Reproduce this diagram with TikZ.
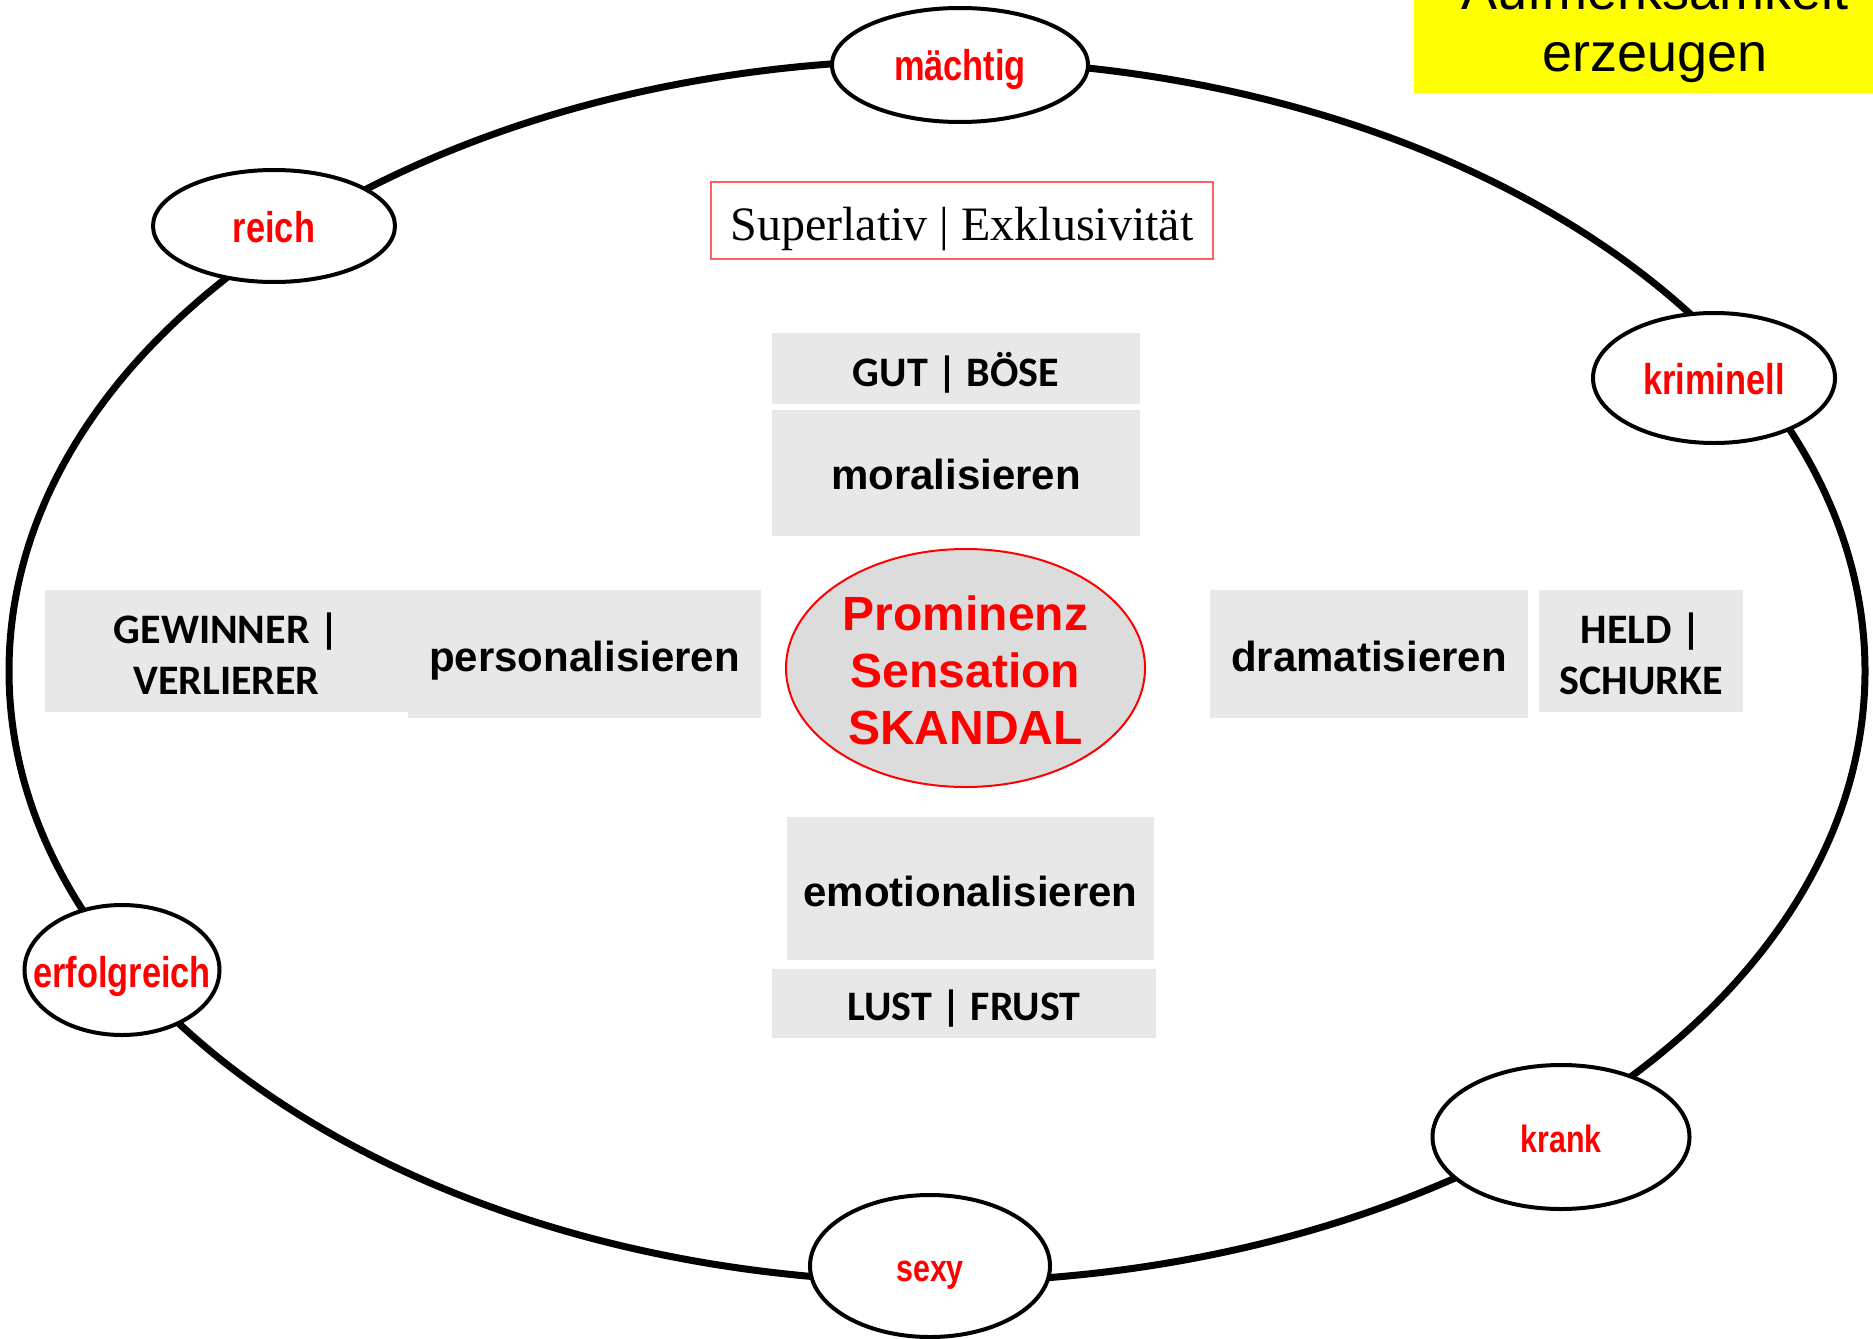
\documentclass[tikz,border=0pt]{standalone}
\usepackage{fontspec}
\setmainfont{Liberation Sans}
\newfontfamily\calib{Carlito}
\newfontfamily\timesf{Liberation Serif}
\newfontfamily\narrowf[FakeStretch=0.8]{Liberation Sans}
\usetikzlibrary{shapes.geometric}
\definecolor{boxgray}{HTML}{E8E8E8}
\definecolor{centgray}{HTML}{DCDCDC}
\definecolor{lightred}{HTML}{FF6060}
\definecolor{pureyellow}{HTML}{FFFF00}
\definecolor{purered}{HTML}{FF0000}
\tikzset{
  smallell/.style={ellipse, draw=black, line width=2pt, fill=white, inner sep=0pt},
  redlbl/.style={text=purered, inner sep=0pt, anchor=base, font={\narrowf\fontsize{21.5pt}{24pt}\selectfont\bfseries}},
  redlblsmall/.style={text=purered, inner sep=0pt, anchor=base, font={\narrowf\fontsize{19pt}{21pt}\selectfont\bfseries}},
  graybox/.style={rectangle, fill=boxgray, inner sep=0pt},
  verbtext/.style={inner sep=0pt, text depth=0pt, font={\fontsize{21pt}{25pt}\selectfont\bfseries}},
  pairtext/.style={inner sep=0pt, text depth=0pt, align=center, font={\calib\fontsize{21pt}{25.5pt}\selectfont\bfseries}},
}
\begin{document}
\begin{tikzpicture}[x=0.5pt,y=-0.5pt]
\useasboundingbox (0,0) rectangle (1873,1338);
\clip (0,0) rectangle (1873,1338);

% yellow title box
\fill[pureyellow] (1414,-80) rectangle (1880,93);
\node[anchor=base, inner sep=0pt, align=center, font={\fontsize{27pt}{31pt}\selectfont}] (title) at (1655,72) {Aufmerksamkeit\\erzeugen};

% big ring
\node[ellipse, draw=black, line width=3.5pt, inner sep=0pt, minimum width=928pt, minimum height=611pt] (ring) at (937,671) {};

% small ellipses on the ring
\node[smallell, minimum width=128pt, minimum height=57pt] (emaechtig) at (960,65) {};
\node[redlbl] (tmaechtig) at ([yshift=-16*0.5pt]emaechtig.center) {mächtig};
\node[smallell, minimum width=121pt, minimum height=56pt] (ereich) at (274,226) {};
\node[redlbl] (treich) at ([yshift=-16*0.5pt]ereich.center) {reich};
\node[smallell, minimum width=121pt, minimum height=65pt] (ekrim) at (1714,378) {};
\node[redlbl] (tkrim) at ([yshift=-16*0.5pt]ekrim.center) {kriminell};
\node[smallell, minimum width=97.5pt, minimum height=65pt] (eerfolg) at (122,970) {};
\node[redlbl] (terfolg) at ([yshift=-17*0.5pt]eerfolg.center) {erfolgreich};
\node[smallell, minimum width=128.5pt, minimum height=72pt] (ekrank) at (1561,1137) {};
\node[redlblsmall] (tkrank) at ([yshift=-15*0.5pt]ekrank.center) {krank};
\node[smallell, minimum width=120pt, minimum height=71pt] (esexy) at (930,1266) {};
\node[redlblsmall] (tsexy) at ([yshift=-15*0.5pt]esexy.center) {sexy};

% Superlativ box
\node[rectangle, draw=lightred, line width=1pt, minimum width=251pt, minimum height=38.5pt, inner sep=0pt] (superl) at (962,220.5) {};
\node[anchor=base, inner sep=0pt, font={\timesf\fontsize{24pt}{28pt}\selectfont}] (tsuperl) at (962,240) {Superlativ | Exklusivität};

% gray boxes
\node[graybox, minimum width=184pt, minimum height=35.5pt] (bgut) at (956,368.5) {};
\node[pairtext] (tgut) at ([yshift=-1*0.5pt]bgut.center) {GUT | BÖSE};
\node[graybox, minimum width=184pt, minimum height=63pt] (bmoral) at (956,473) {};
\node[verbtext] (tmoral) at ([yshift=-1*0.5pt]bmoral.center) {moralisieren};

\node[graybox, minimum width=181.5pt, minimum height=61pt] (bgew) at (226.5,651) {};
\node[pairtext] (tgew) at ([yshift=-3*0.5pt]bgew.center) {GEWINNER |\\VERLIERER};
\node[graybox, minimum width=176.5pt, minimum height=64pt] (bpers) at (584.5,654) {};
\node[verbtext] (tpers) at ([yshift=-2*0.5pt]bpers.center) {personalisieren};

\node[graybox, minimum width=159pt, minimum height=64pt] (bdram) at (1369,654) {};
\node[verbtext] (tdram) at ([yshift=-2.5*0.5pt]bdram.center) {dramatisieren};
\node[graybox, minimum width=102pt, minimum height=61pt] (bheld) at (1641,651) {};
\node[pairtext] (theld) at ([yshift=-3*0.5pt]bheld.center) {HELD |\\SCHURKE};

\node[graybox, minimum width=183.5pt, minimum height=71.5pt] (bemot) at (970.5,888.5) {};
\node[verbtext] (temot) at ([yshift=-2.5*0.5pt]bemot.center) {emotionalisieren};
\node[graybox, minimum width=192pt, minimum height=34.5pt] (blust) at (964,1003.5) {};
\node[pairtext] (tlust) at ([yshift=-2*0.5pt]blust.center) {LUST | FRUST};

% central ellipse
\node[ellipse, draw=purered, line width=1pt, fill=centgray, inner sep=0pt, minimum width=179.5pt, minimum height=119pt] (center) at (965.5,668) {};
\node[inner sep=0pt, align=center, text=purered, font={\fontsize{24pt}{28.5pt}\selectfont\bfseries}] (tcenter) at ([yshift=-2*0.5pt]center.center) {Prominenz\\Sensation\\SKANDAL};
\end{tikzpicture}
\end{document}
